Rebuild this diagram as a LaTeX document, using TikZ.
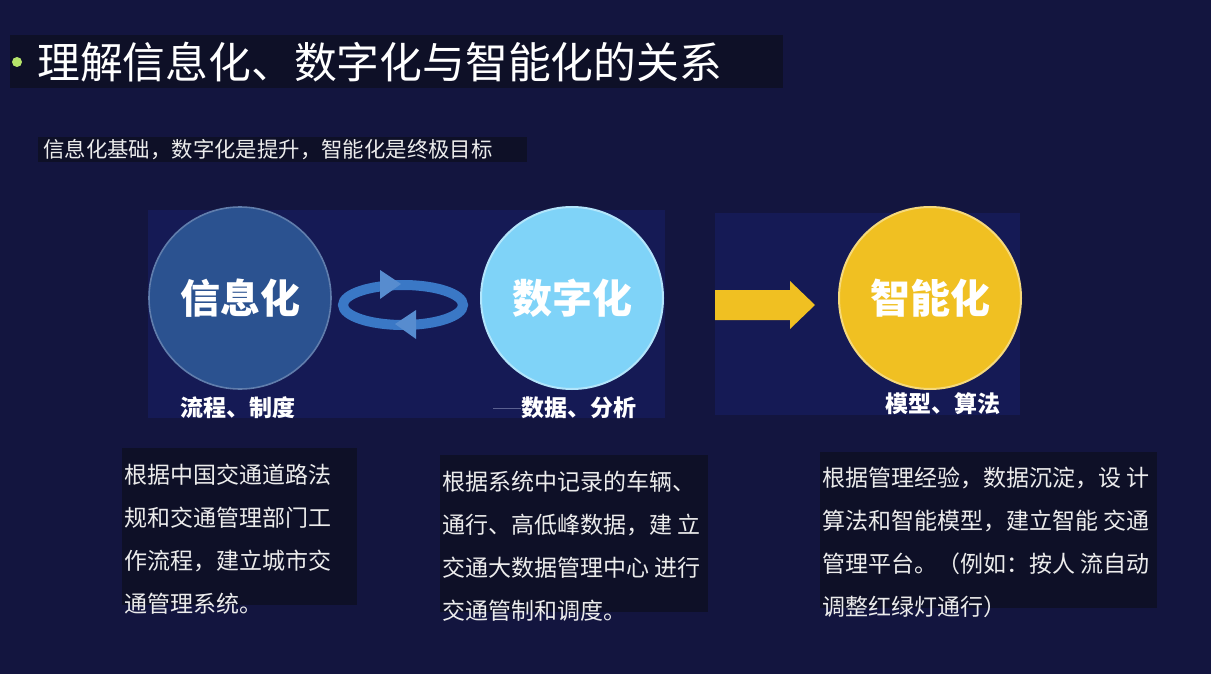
\documentclass[tikz,border=0pt]{standalone}
\usepackage{fontspec}
\setmainfont{Noto Sans CJK SC}
\usetikzlibrary{shapes.geometric}
\definecolor{bg}{HTML}{13153F}
\definecolor{boxc}{HTML}{0E1027}
\definecolor{panel}{HTML}{151A55}
\definecolor{infoc}{HTML}{2B5290}
\definecolor{digic}{HTML}{7FD3F8}
\definecolor{smartc}{HTML}{F0C022}
\definecolor{ringc}{HTML}{3A78C6}
\definecolor{bulletc}{HTML}{B5E36A}
\definecolor{txt}{HTML}{ECECEC}
\definecolor{linec}{HTML}{5A6090}
\tikzset{
  darkbox/.style={fill=boxc, draw=none},
  bigcircle/.style={circle, minimum size=91pt, inner sep=0pt, text=white, font=\fontsize{20}{22}\selectfont\bfseries},
  lbl/.style={text=white, font=\fontsize{11.5}{13}\selectfont\bfseries, inner sep=0pt},
  body/.style={text=txt, font=\fontsize{11.5}{21.5}\selectfont, align=left, inner sep=0pt, anchor=north west},
}
\begin{document}
\begin{tikzpicture}[x=0.5pt,y=-0.5pt]
\useasboundingbox (0,0) rectangle (1211,674);
\fill[bg] (0,0) rectangle (1211,674);
% title
\fill[boxc] (10,35) rectangle (783,88);
\fill[bulletc] (17,62) circle [radius=5];
\node[anchor=west, inner sep=0pt, text=white, font=\fontsize{21.4}{24}\selectfont] (title) at (37,62) {理解信息化、数字化与智能化的关系};
% subtitle
\fill[boxc] (38,137) rectangle (527,162);
\node[anchor=west, inner sep=0pt, text=txt, font=\fontsize{10.7}{13}\selectfont] (sub) at (43,150) {信息化基础，数字化是提升，智能化是终极目标};
% panels
\fill[panel] (148,210) rectangle (665,418);
\fill[panel] (715,213) rectangle (1020,415);
% circles
\node[bigcircle, fill=infoc, draw=infoc!75!white, line width=0.8pt] (info) at (240,298) {信息化};
\node[bigcircle, fill=digic, draw=digic!60!white, line width=1pt] (digi) at (572,298) {数字化};
\node[bigcircle, fill=smartc, draw=smartc!60!white, line width=1pt] (smart) at (930,298) {智能化};
% labels
\node[lbl] (l1) at (238,408) {流程、制度};
\node[lbl] (l2) at (579,408) {数据、分析};
\coordinate (ls) at (493,408);
\draw[linec, line width=0.5pt] (ls) -- (l2.west);
\node[lbl] (l3) at (943,404) {模型、算法};
% ring arrows
\draw[ringc, line width=5pt] (403,305) ellipse [x radius=60, y radius=20];
\fill[ringc!85!white] (380,270) -- (401,284) -- (380,299) -- cycle;
\fill[ringc!85!white] (416,310) -- (395,324) -- (416,339) -- cycle;
% yellow arrow
\fill[smartc] (715,290) -- (790,290) -- (790,281) -- (815,305) -- (790,329) -- (790,320) -- (715,320) -- cycle;
% text boxes
\fill[boxc] (122,448) rectangle (357,605);
\node[body] (t1) at (124,464) {根据中国交通道路法\\规和交通管理部门工\\作流程，建立城市交\\通管理系统。};
\fill[boxc] (440,455) rectangle (708,612);
\node[body] (t2) at (442,471) {根据系统中记录的车辆、\\通行、高低峰数据，建 立\\交通大数据管理中心 进行\\交通管制和调度。};
\fill[boxc] (820,452) rectangle (1157,608);
\node[body] (t3) at (822,467) {根据管理经验，数据沉淀，设 计\\算法和智能模型，建立智能 交通\\管理平台。（例如：按人 流自动\\调整红绿灯通行）};
\end{tikzpicture}
\end{document}
